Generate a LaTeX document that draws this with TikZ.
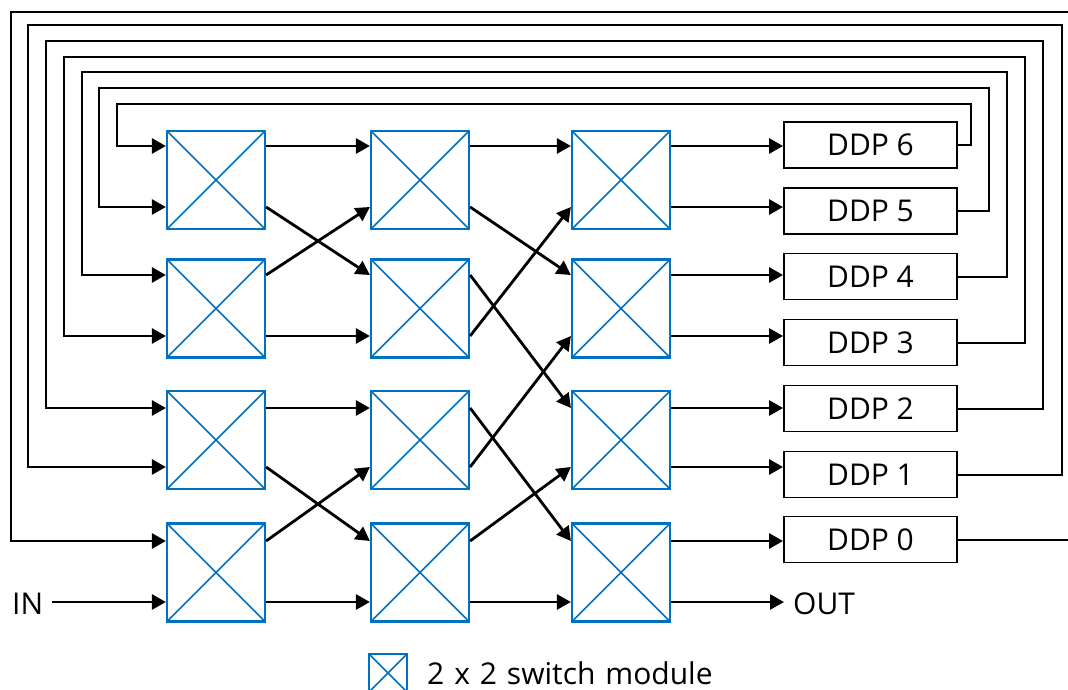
\documentclass[tikz,border=0pt]{standalone}
\usepackage{fontspec}
\setmainfont{Open Sans}
\usetikzlibrary{arrows.meta,calc}
\definecolor{swblue}{RGB}{0,112,192}
\begin{document}
\begin{tikzpicture}[x=1pt,y=-1pt,
  sw/.style={draw=swblue,line width=2.2pt,minimum size=98pt,inner sep=0pt,
    path picture={\draw[swblue,line width=1.5pt]
      (path picture bounding box.north west)--(path picture bounding box.south east)
      (path picture bounding box.south west)--(path picture bounding box.north east);}},
  ddp/.style={draw,line width=1.9pt,minimum width=173pt,minimum height=46pt,inner sep=0pt,
    font=\fontsize{30}{36}\selectfont},
  arr/.style={line width=2.8pt,-{Triangle[length=14pt,width=15pt]}},
  fb/.style={line width=2pt},
  lbl/.style={font=\fontsize{30}{36}\selectfont,inner sep=0pt}]
\path[use as bounding box] (0,0) rectangle (1068,690);
\clip (0,0) rectangle (1068,690);

% switch modules
\foreach \c/\x in {1/216,2/420,3/621}
  \foreach \r/\y in {1/180,2/308.5,3/440,4/572.5}
    \node[sw] (s\c\r) at (\x,\y) {};

% ports
\foreach \r/\ya/\yb in {1/146/207,2/275/336,3/408/467,4/541/602}
  \foreach \c in {1,2,3} {
    \coordinate (i\c\r a) at (s\c\r.west |- 0,\ya);
    \coordinate (i\c\r b) at (s\c\r.west |- 0,\yb);
    \coordinate (o\c\r a) at (s\c\r.east |- 0,\ya);
    \coordinate (o\c\r b) at (s\c\r.east |- 0,\yb);
  }

% stage 1 -> 2
\foreach \a/\b in {11a/21a,11b/22a,12a/21b,12b/22b,13a/23a,13b/24a,14a/23b,14b/24b}
  \draw[arr] (o\a) -- (i\b);
% stage 2 -> 3
\foreach \a/\b in {21a/31a,21b/32a,22a/33a,22b/31b,23a/34a,23b/32b,24a/33b,24b/34b}
  \draw[arr] (o\a) -- (i\b);

% DDP boxes
\foreach \k/\y in {6/145,5/211,4/276.5,3/342.5,2/408.5,1/474.5,0/539.5}
  \node[ddp] (d\k) at (870.5,\y) {DDP \k};

\foreach \p/\k in {31a/6,31b/5,32a/4,32b/3,33a/2,33b/1,34a/0}
  \draw[arr] (o\p) -- (o\p -| d\k.west);

% feedback loops
\foreach \k/\xr/\yt/\xl/\p in {6/971/104/117/11a,5/989/88/99/11b,4/1007/72/82/12a,
                               3/1025/57/64/12b,2/1043/41/46/13a,1/1062/25/28/13b} {
  \coordinate (R\k) at (\xr,\yt);
  \coordinate (L\k) at (\xl,\yt);
  \coordinate (K\k) at (L\k |- i\p);
  \draw[fb] (d\k.east) -| (R\k) -- (L\k) -- (K\k);
  \draw[arr] ([xshift=-1pt]K\k) -- (i\p);
}
\coordinate (E0) at (1072,12);
\coordinate (T0) at (11,12);
\coordinate (K0) at (T0 |- i14a);
\draw[fb] (d0.east) -- (d0.east -| E0);
\draw[fb] (E0) -- (T0) -- (K0);
\draw[arr] ([xshift=-1pt]K0) -- (i14a);

% IN / OUT
\node[lbl,anchor=west] (in) at (12,604) {IN};
\coordinate (inS) at (52,602);
\draw[arr] (inS) -- (i14b);
\node[lbl,anchor=west] (out) at (793,604) {OUT};
\coordinate (outE) at (784,602);
\draw[arr] (o34b) -- (outE);

% legend
\node[sw,minimum size=38pt,line width=2pt] (leg) at (388,673) {};
\node[lbl,anchor=west] (legt) at (427,673.5) {\spaceskip=0.33em plus 0.1em 2 x 2 switch module};
\end{tikzpicture}
\end{document}
